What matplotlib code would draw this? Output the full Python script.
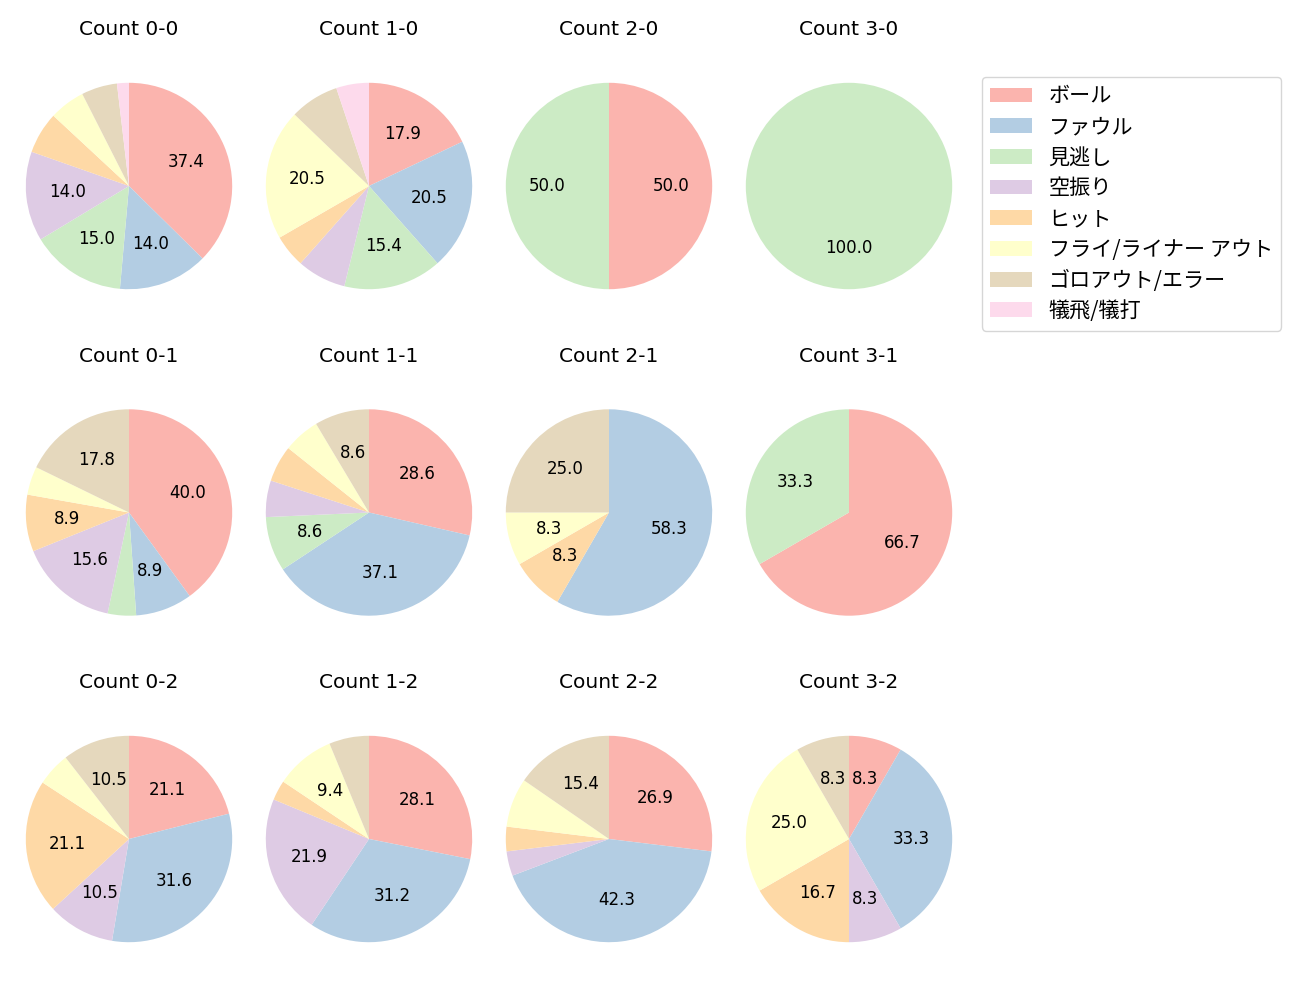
import numpy as np
import matplotlib.pyplot as plt
from matplotlib.patches import Patch

plt.rcParams['font.family'] = ['DejaVu Sans', 'Noto Sans CJK JP']

CATEGORIES = ["ボール", "ファウル", "見逃し", "空振り", "ヒット",
              "フライ/ライナー アウト", "ゴロアウト/エラー", "犠飛/犠打"]

# pitch counts per ball-strike count, in CATEGORIES order
COUNTS = {
    "0-0": [40, 15, 16, 15, 7, 6, 6, 2],
    "1-0": [7, 8, 6, 3, 2, 8, 3, 2],
    "2-0": [1, 0, 1, 0, 0, 0, 0, 0],
    "3-0": [0, 0, 1, 0, 0, 0, 0, 0],
    "0-1": [18, 4, 2, 7, 4, 2, 8, 0],
    "1-1": [10, 13, 3, 2, 2, 2, 3, 0],
    "2-1": [0, 7, 0, 0, 1, 1, 3, 0],
    "3-1": [2, 0, 1, 0, 0, 0, 0, 0],
    "0-2": [4, 6, 0, 2, 4, 1, 2, 0],
    "1-2": [9, 10, 0, 7, 1, 3, 2, 0],
    "2-2": [7, 11, 0, 1, 1, 2, 4, 0],
    "3-2": [1, 4, 0, 1, 2, 3, 1, 0],
}

colors = plt.cm.Pastel1.colors[:8]

fig = plt.figure(figsize=(13, 10), dpi=100)
W, H = 1300, 1000
size = 258  # square axes box in px -> pie radius ~103 px

for i, strikes in enumerate(range(3)):
    for j, balls in enumerate(range(4)):
        key = f"{balls}-{strikes}"
        vals = np.array(COUNTS[key], dtype=float)
        cx = 129 + 240 * j
        cy = 186 + 326.5 * i
        ax = fig.add_axes([(cx - size / 2) / W, 1 - (cy + size / 2) / H,
                           size / W, size / H])
        mask = vals > 0
        ax.pie(vals[mask], colors=[c for c, m in zip(colors, mask) if m],
               startangle=90, counterclock=False,
               autopct=lambda p: f"{p:.1f}" if p >= 8 else "",
               textprops={"fontsize": 12})
        ax.set_title(f"Count {key}", fontsize=14.5, pad=15.5)

legend_handles = [Patch(facecolor=c) for c in colors]
fig.legend(legend_handles, CATEGORIES, loc="upper left",
           bbox_to_anchor=(982 / W, 1 - 77 / H),
           prop={"family": "Noto Sans CJK JP", "size": 15.2},
           labelspacing=0.41, handlelength=1.95, borderaxespad=0)

fig.savefig("out.png", dpi=100)
